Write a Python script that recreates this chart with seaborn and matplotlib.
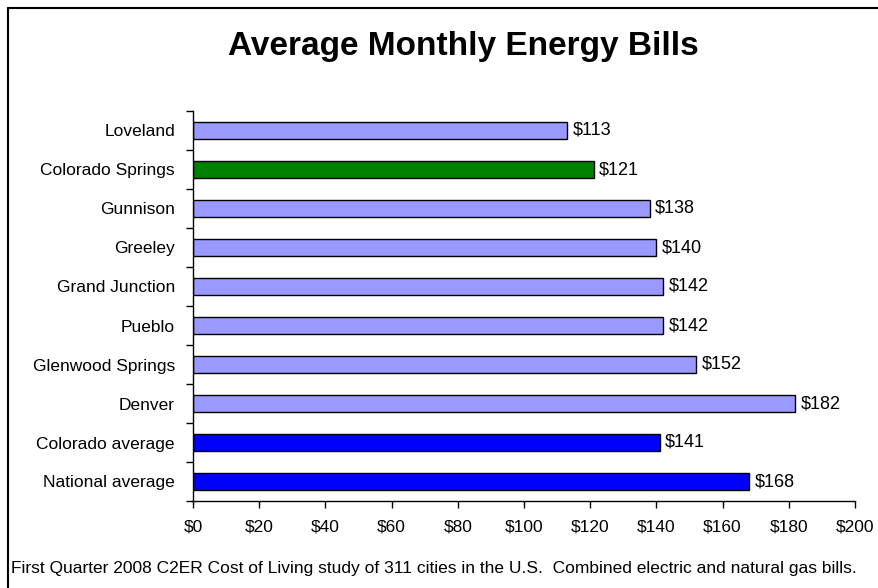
import numpy as np
import pandas as pd
import matplotlib
matplotlib.use("Agg")
import matplotlib.pyplot as plt
import seaborn as sns
from matplotlib.lines import Line2D

# chart values
cities = ['Loveland', 'Colorado Springs', 'Gunnison', 'Greeley', 'Grand Junction',
          'Pueblo', 'Glenwood Springs', 'Denver', 'Colorado average', 'National average']
bills = [113, 121, 138, 140, 142, 142, 152, 182, 141, 168]
bar_colors = ['#9999FF', '#008000', '#9999FF', '#9999FF', '#9999FF',
              '#9999FF', '#9999FF', '#9999FF', '#0000FF', '#0000FF']
x_ticks = [0, 20, 40, 60, 80, 100, 120, 140, 160, 180, 200]

df = pd.DataFrame({'city': cities, 'bill': bills})

sns.set_style('white')
plt.rcParams['font.family'] = ['Liberation Sans', 'DejaVu Sans']
plt.rcParams['text.color'] = 'black'
plt.rcParams['xtick.color'] = 'black'
plt.rcParams['ytick.color'] = 'black'

fig = plt.figure(figsize=(8.79, 5.88), dpi=100)
ax = fig.add_axes([193/879, 1-501/588, (855-193)/879, 390/588])

sns.barplot(data=df, x='bill', y='city', hue='city', palette=bar_colors,
            legend=False, width=0.42, edgecolor='black', linewidth=1.0,
            saturation=1, ax=ax)

for i, v in enumerate(bills):
    ax.text(v + 1.6, i, '$%d' % v, va='center', ha='left', fontsize=13)

ax.set_xlim(0, 200)
ax.set_ylim(len(cities) - 0.5, -0.5)
ax.set_xticks(x_ticks)
ax.set_xticklabels(['$%d' % t for t in x_ticks], fontsize=12.5)
ax.set_yticks(np.arange(len(cities) + 1) - 0.5, minor=False)
ax.set_yticklabels([])
ax.set_yticks(np.arange(len(cities)), minor=True)
ax.set_yticklabels(cities, minor=True, fontsize=12.5)
ax.tick_params(axis='y', which='major', length=5, width=1, direction='out', left=True)
ax.tick_params(axis='y', which='minor', length=0, pad=13)
ax.tick_params(axis='x', length=5, width=1, direction='out', bottom=True, pad=8)
ax.set_xlabel('')
ax.set_ylabel('')
for s in ['top', 'right']:
    ax.spines[s].set_visible(False)
for s in ['left', 'bottom']:
    ax.spines[s].set_color('black')
    ax.spines[s].set_linewidth(1)

fig.text(463/879, 1-46/588, 'Average Monthly Energy Bills', ha='center', va='center',
         fontsize=24, fontweight='bold')
fig.text(11/879, 1-569/588,
         'First Quarter 2008 C2ER Cost of Living study of 311 cities in the U.S.  Combined electric and natural gas bills.',
         ha='left', va='center', fontsize=12.5)

# chart border
fig.add_artist(Line2D([8/879, 8/879], [0, 1-8/588], color='black', lw=1.5, transform=fig.transFigure))
fig.add_artist(Line2D([8/879, 1], [1-8/588, 1-8/588], color='black', lw=1.5, transform=fig.transFigure))

fig.savefig('out.png', dpi=100)
